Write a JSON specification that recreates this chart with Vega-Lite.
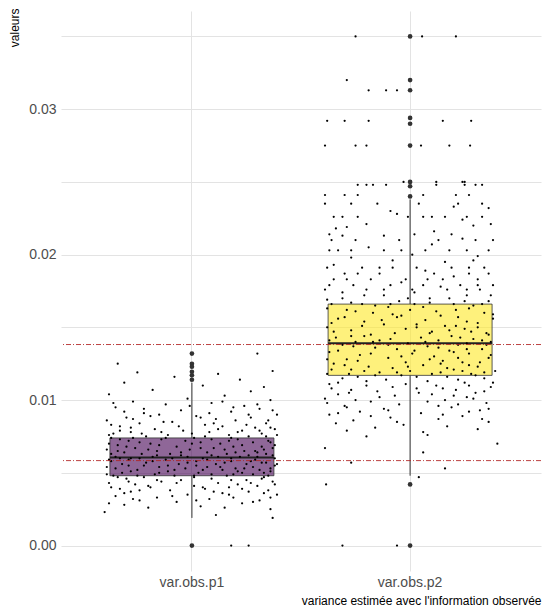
{
  "$schema": "https://vega.github.io/schema/vega-lite/v6.json",
  "width": 480,
  "height": 560,
  "autosize": {"type": "none"},
  "padding": {"left": 61, "top": 11, "right": 2, "bottom": 43},
  "background": "white",
  "config": {
    "view": {"stroke": null},
    "font": "Liberation Sans",
    "axis": {"domain": false, "ticks": false, "gridColor": "#e3e3e3", "gridWidth": 1, "labelColor": "#4d4d4d", "labelFontSize": 14, "labelFont": "Liberation Sans", "titleFont": "Liberation Sans", "titleFontWeight": "normal", "titleColor": "#000000", "titleFontSize": 12}
  },
  "datasets": {
    "box": [
      {"g": "var.obs.p1", "lo": 0.0019, "q1": 0.0048, "med": 0.00605, "q3": 0.0074, "hi": 0.0112},
      {"g": "var.obs.p2", "lo": 0.0048, "q1": 0.0117, "med": 0.0139, "q3": 0.0166, "hi": 0.0238}
    ],
    "out": [
      {"g": "var.obs.p1", "v": 0.0132}, {"g": "var.obs.p1", "v": 0.0125}, {"g": "var.obs.p1", "v": 0.0123}, {"g": "var.obs.p1", "v": 0.01195}, {"g": "var.obs.p1", "v": 0.0117}, {"g": "var.obs.p1", "v": 0.0114}, {"g": "var.obs.p1", "v": 0.0},
      {"g": "var.obs.p2", "v": 0.035}, {"g": "var.obs.p2", "v": 0.032}, {"g": "var.obs.p2", "v": 0.0313}, {"g": "var.obs.p2", "v": 0.0294}, {"g": "var.obs.p2", "v": 0.0290}, {"g": "var.obs.p2", "v": 0.0275}, {"g": "var.obs.p2", "v": 0.025}, {"g": "var.obs.p2", "v": 0.0247}, {"g": "var.obs.p2", "v": 0.0240}, {"g": "var.obs.p2", "v": 0.0042}, {"g": "var.obs.p2", "v": 0.0}
    ],
    "ref": [{"v": 0.00584}, {"v": 0.01382}],
    "pts": [
      {"g":"var.obs.p1","v":0.0132,"j":0.30},{"g":"var.obs.p1","v":0.0125,"j":-0.34},{"g":"var.obs.p1","v":0.0120,"j":0.37},{"g":"var.obs.p1","v":0.0119,"j":-0.25},{"g":"var.obs.p1","v":0.0118,"j":0.12},{"g":"var.obs.p1","v":0.0116,"j":-0.08},{"g":"var.obs.p1","v":0.0114,"j":0.22},{"g":"var.obs.p1","v":0.0112,"j":-0.31},{"g":"var.obs.p1","v":0.0110,"j":0.05},{"g":"var.obs.p1","v":0.0109,"j":0.33},{"g":"var.obs.p1","v":0.0107,"j":-0.18},{"g":"var.obs.p1","v":0.0106,"j":0.27},{"g":"var.obs.p1","v":0.0104,"j":-0.38},{"g":"var.obs.p1","v":0.0103,"j":0.15},{"g":"var.obs.p1","v":0.0101,"j":-0.02},{"g":"var.obs.p1","v":0.0100,"j":0.36},{"g":"var.obs.p1","v":0.0099,"j":-0.27},{"g":"var.obs.p1","v":0.0098,"j":0.09},{"g":"var.obs.p1","v":0.0097,"j":-0.12},{"g":"var.obs.p1","v":0.0096,"j":0.24},{"g":"var.obs.p1","v":0.0095,"j":-0.35},{"g":"var.obs.p1","v":0.0094,"j":0.31},{"g":"var.obs.p1","v":0.0093,"j":-0.05},{"g":"var.obs.p1","v":0.0092,"j":0.18},{"g":"var.obs.p1","v":0.0091,"j":-0.22},{"g":"var.obs.p1","v":0.0090,"j":0.39},{"g":"var.obs.p1","v":0.0090,"j":-0.15},{"g":"var.obs.p1","v":0.0089,"j":0.02},{"g":"var.obs.p1","v":0.0088,"j":-0.30},{"g":"var.obs.p1","v":0.0088,"j":0.27},{"g":"var.obs.p1","v":0.0087,"j":0.11},{"g":"var.obs.p1","v":0.0086,"j":-0.39},{"g":"var.obs.p1","v":0.0086,"j":0.20},{"g":"var.obs.p1","v":0.0085,"j":-0.09},{"g":"var.obs.p1","v":0.0084,"j":0.34},{"g":"var.obs.p1","v":0.0084,"j":-0.24},{"g":"var.obs.p1","v":0.0083,"j":0.06},{"g":"var.obs.p1","v":0.0082,"j":-0.33},{"g":"var.obs.p1","v":0.0082,"j":0.14},{"g":"var.obs.p1","v":0.0081,"j":0.29},{"g":"var.obs.p1","v":0.0080,"j":-0.17},{"g":"var.obs.p1","v":0.0080,"j":0.38},{"g":"var.obs.p1","v":0.0079,"j":-0.04},{"g":"var.obs.p1","v":0.0079,"j":0.23},{"g":"var.obs.p1","v":0.0078,"j":-0.28},{"g":"var.obs.p1","v":0.0078,"j":0.08},{"g":"var.obs.p1","v":0.0077,"j":-0.36},{"g":"var.obs.p1","v":0.0077,"j":0.32},{"g":"var.obs.p1","v":0.0076,"j":-0.11},{"g":"var.obs.p1","v":0.0076,"j":0.17},{"g":"var.obs.p1","v":0.0075,"j":-0.21},{"g":"var.obs.p1","v":0.0075,"j":0.26},{"g":"var.obs.p1","v":0.0074,"j":0.01},
      {"g":"var.obs.p1","v":0.0074,"j":-0.37},{"g":"var.obs.p1","v":0.0073,"j":0.21},{"g":"var.obs.p1","v":0.0073,"j":-0.14},{"g":"var.obs.p1","v":0.0072,"j":0.35},{"g":"var.obs.p1","v":0.0072,"j":-0.29},{"g":"var.obs.p1","v":0.0071,"j":0.04},{"g":"var.obs.p1","v":0.0071,"j":0.28},{"g":"var.obs.p1","v":0.0070,"j":-0.19},{"g":"var.obs.p1","v":0.0070,"j":0.13},{"g":"var.obs.p1","v":0.0069,"j":-0.34},{"g":"var.obs.p1","v":0.0069,"j":0.38},{"g":"var.obs.p1","v":0.0068,"j":-0.07},{"g":"var.obs.p1","v":0.0068,"j":0.19},{"g":"var.obs.p1","v":0.0067,"j":-0.26},{"g":"var.obs.p1","v":0.0067,"j":0.10},{"g":"var.obs.p1","v":0.0066,"j":0.33},{"g":"var.obs.p1","v":0.0066,"j":-0.39},{"g":"var.obs.p1","v":0.0066,"j":-0.01},{"g":"var.obs.p1","v":0.0065,"j":0.24},{"g":"var.obs.p1","v":0.0065,"j":-0.16},{"g":"var.obs.p1","v":0.0064,"j":0.07},{"g":"var.obs.p1","v":0.0064,"j":-0.31},{"g":"var.obs.p1","v":0.0064,"j":0.30},{"g":"var.obs.p1","v":0.0063,"j":-0.10},{"g":"var.obs.p1","v":0.0063,"j":0.16},{"g":"var.obs.p1","v":0.0063,"j":-0.23},{"g":"var.obs.p1","v":0.0062,"j":0.37},{"g":"var.obs.p1","v":0.0062,"j":-0.05},{"g":"var.obs.p1","v":0.0062,"j":0.26},{"g":"var.obs.p1","v":0.0061,"j":-0.35},{"g":"var.obs.p1","v":0.0061,"j":0.12},{"g":"var.obs.p1","v":0.0061,"j":-0.18},{"g":"var.obs.p1","v":0.0061,"j":0.22},{"g":"var.obs.p1","v":0.0060,"j":-0.28},
      {"g":"var.obs.p1","v":0.0060,"j":0.05},{"g":"var.obs.p1","v":0.0060,"j":-0.33},{"g":"var.obs.p1","v":0.0059,"j":0.29},{"g":"var.obs.p1","v":0.0059,"j":-0.12},{"g":"var.obs.p1","v":0.0058,"j":0.18},{"g":"var.obs.p1","v":0.0058,"j":-0.37},{"g":"var.obs.p1","v":0.0058,"j":0.02},{"g":"var.obs.p1","v":0.0057,"j":0.34},{"g":"var.obs.p1","v":0.0057,"j":-0.21},{"g":"var.obs.p1","v":0.0056,"j":0.11},{"g":"var.obs.p1","v":0.0056,"j":-0.06},{"g":"var.obs.p1","v":0.0056,"j":0.25},{"g":"var.obs.p1","v":0.0055,"j":-0.29},{"g":"var.obs.p1","v":0.0055,"j":0.38},{"g":"var.obs.p1","v":0.0054,"j":-0.15},{"g":"var.obs.p1","v":0.0054,"j":0.07},{"g":"var.obs.p1","v":0.0054,"j":-0.39},{"g":"var.obs.p1","v":0.0053,"j":0.20},{"g":"var.obs.p1","v":0.0053,"j":-0.03},{"g":"var.obs.p1","v":0.0052,"j":0.31},{"g":"var.obs.p1","v":0.0052,"j":-0.25},{"g":"var.obs.p1","v":0.0052,"j":0.14},{"g":"var.obs.p1","v":0.0051,"j":-0.11},{"g":"var.obs.p1","v":0.0051,"j":0.36},{"g":"var.obs.p1","v":0.0050,"j":-0.32},{"g":"var.obs.p1","v":0.0050,"j":0.03},{"g":"var.obs.p1","v":0.0050,"j":0.23},{"g":"var.obs.p1","v":0.0049,"j":-0.17},{"g":"var.obs.p1","v":0.0049,"j":0.28},{"g":"var.obs.p1","v":0.0048,"j":-0.08},{"g":"var.obs.p1","v":0.0048,"j":0.16},{"g":"var.obs.p1","v":0.0048,"j":-0.36},
      {"g":"var.obs.p1","v":0.0047,"j":0.33},{"g":"var.obs.p1","v":0.0047,"j":-0.22},{"g":"var.obs.p1","v":0.0046,"j":0.09},{"g":"var.obs.p1","v":0.0046,"j":-0.30},{"g":"var.obs.p1","v":0.0045,"j":0.25},{"g":"var.obs.p1","v":0.0045,"j":-0.05},{"g":"var.obs.p1","v":0.0044,"j":0.37},{"g":"var.obs.p1","v":0.0044,"j":-0.14},{"g":"var.obs.p1","v":0.0043,"j":0.12},{"g":"var.obs.p1","v":0.0043,"j":-0.38},{"g":"var.obs.p1","v":0.0042,"j":0.21},{"g":"var.obs.p1","v":0.0042,"j":-0.26},{"g":"var.obs.p1","v":0.0041,"j":0.01},{"g":"var.obs.p1","v":0.0041,"j":0.30},{"g":"var.obs.p1","v":0.0040,"j":-0.19},{"g":"var.obs.p1","v":0.0040,"j":0.17},{"g":"var.obs.p1","v":0.0039,"j":-0.33},{"g":"var.obs.p1","v":0.0039,"j":0.06},{"g":"var.obs.p1","v":0.0038,"j":0.35},{"g":"var.obs.p1","v":0.0038,"j":-0.10},{"g":"var.obs.p1","v":0.0037,"j":0.26},{"g":"var.obs.p1","v":0.0037,"j":-0.28},{"g":"var.obs.p1","v":0.0036,"j":0.14},{"g":"var.obs.p1","v":0.0035,"j":-0.02},{"g":"var.obs.p1","v":0.0035,"j":0.39},{"g":"var.obs.p1","v":0.0034,"j":-0.35},{"g":"var.obs.p1","v":0.0033,"j":0.19},{"g":"var.obs.p1","v":0.0033,"j":-0.16},{"g":"var.obs.p1","v":0.0032,"j":0.08},{"g":"var.obs.p1","v":0.0031,"j":-0.24},{"g":"var.obs.p1","v":0.0031,"j":0.31},{"g":"var.obs.p1","v":0.0030,"j":-0.07},{"g":"var.obs.p1","v":0.0029,"j":0.23},{"g":"var.obs.p1","v":0.0028,"j":-0.31},{"g":"var.obs.p1","v":0.0027,"j":0.04},{"g":"var.obs.p1","v":0.0026,"j":-0.20},{"g":"var.obs.p1","v":0.0025,"j":0.36},{"g":"var.obs.p1","v":0.0023,"j":-0.40},{"g":"var.obs.p1","v":0.0021,"j":0.11},{"g":"var.obs.p1","v":0.0019,"j":0.37},{"g":"var.obs.p1","v":0.0000,"j":0.18},{"g":"var.obs.p1","v":0.0000,"j":0.26},
      {"g":"var.obs.p1","v":0.0099,"j":0.14},{"g":"var.obs.p1","v":0.0098,"j":-0.36},{"g":"var.obs.p1","v":0.0097,"j":0.30},{"g":"var.obs.p1","v":0.0096,"j":-0.01},{"g":"var.obs.p1","v":0.0095,"j":0.19},{"g":"var.obs.p1","v":0.0094,"j":-0.22},{"g":"var.obs.p1","v":0.0093,"j":0.37},{"g":"var.obs.p1","v":0.0092,"j":-0.31},{"g":"var.obs.p1","v":0.0091,"j":0.08},{"g":"var.obs.p1","v":0.0090,"j":0.26},{"g":"var.obs.p1","v":0.0089,"j":-0.19},{"g":"var.obs.p1","v":0.0088,"j":0.04},{"g":"var.obs.p1","v":0.0087,"j":-0.27},{"g":"var.obs.p1","v":0.0086,"j":0.35},{"g":"var.obs.p1","v":0.0085,"j":-0.13},
      {"g":"var.obs.p1","v":0.0084,"j":0.10},{"g":"var.obs.p1","v":0.0083,"j":-0.37},{"g":"var.obs.p1","v":0.0083,"j":0.25},{"g":"var.obs.p1","v":0.0082,"j":-0.06},{"g":"var.obs.p1","v":0.0081,"j":-0.28},{"g":"var.obs.p1","v":0.0081,"j":0.36},{"g":"var.obs.p1","v":0.0080,"j":0.12},{"g":"var.obs.p1","v":0.0079,"j":-0.33},{"g":"var.obs.p1","v":0.0079,"j":0.31},{"g":"var.obs.p1","v":0.0078,"j":-0.14},{"g":"var.obs.p1","v":0.0078,"j":0.21},{"g":"var.obs.p1","v":0.0077,"j":0.00},{"g":"var.obs.p1","v":0.0077,"j":-0.23},{"g":"var.obs.p1","v":0.0076,"j":0.39},{"g":"var.obs.p1","v":0.0076,"j":-0.38},{"g":"var.obs.p1","v":0.0075,"j":0.06},{"g":"var.obs.p1","v":0.0075,"j":0.34},{"g":"var.obs.p1","v":0.0074,"j":-0.27},{"g":"var.obs.p1","v":0.0074,"j":0.18},{"g":"var.obs.p1","v":0.0074,"j":-0.12},
      {"g":"var.obs.p1","v":0.0073,"j":0.09},{"g":"var.obs.p1","v":0.0073,"j":-0.33},{"g":"var.obs.p1","v":0.0072,"j":0.17},{"g":"var.obs.p1","v":0.0072,"j":-0.03},{"g":"var.obs.p1","v":0.0071,"j":-0.24},{"g":"var.obs.p1","v":0.0071,"j":0.36},{"g":"var.obs.p1","v":0.0070,"j":0.00},{"g":"var.obs.p1","v":0.0070,"j":-0.38},{"g":"var.obs.p1","v":0.0069,"j":0.23},{"g":"var.obs.p1","v":0.0069,"j":-0.15},{"g":"var.obs.p1","v":0.0068,"j":0.32},{"g":"var.obs.p1","v":0.0068,"j":-0.30},{"g":"var.obs.p1","v":0.0067,"j":0.04},{"g":"var.obs.p1","v":0.0067,"j":0.37},{"g":"var.obs.p1","v":0.0066,"j":-0.20},{"g":"var.obs.p1","v":0.0066,"j":0.15},{"g":"var.obs.p1","v":0.0065,"j":-0.34},{"g":"var.obs.p1","v":0.0065,"j":0.29},{"g":"var.obs.p1","v":0.0064,"j":-0.05},{"g":"var.obs.p1","v":0.0064,"j":0.20},{"g":"var.obs.p1","v":0.0063,"j":-0.37},{"g":"var.obs.p1","v":0.0063,"j":0.34},{"g":"var.obs.p1","v":0.0062,"j":0.09},{"g":"var.obs.p1","v":0.0062,"j":-0.16},{"g":"var.obs.p1","v":0.0061,"j":0.30},{"g":"var.obs.p1","v":0.0061,"j":-0.02},{"g":"var.obs.p1","v":0.0060,"j":0.18},{"g":"var.obs.p1","v":0.0060,"j":-0.24},{"g":"var.obs.p1","v":0.0060,"j":0.38},{"g":"var.obs.p1","v":0.0060,"j":-0.09},
      {"g":"var.obs.p1","v":0.0059,"j":0.07},{"g":"var.obs.p1","v":0.0059,"j":-0.38},{"g":"var.obs.p1","v":0.0058,"j":0.27},{"g":"var.obs.p1","v":0.0058,"j":-0.18},{"g":"var.obs.p1","v":0.0057,"j":-0.02},{"g":"var.obs.p1","v":0.0057,"j":0.15},{"g":"var.obs.p1","v":0.0056,"j":-0.32},{"g":"var.obs.p1","v":0.0056,"j":0.39},{"g":"var.obs.p1","v":0.0055,"j":0.02},{"g":"var.obs.p1","v":0.0055,"j":-0.22},{"g":"var.obs.p1","v":0.0054,"j":0.28},{"g":"var.obs.p1","v":0.0054,"j":0.13},{"g":"var.obs.p1","v":0.0053,"j":-0.35},{"g":"var.obs.p1","v":0.0053,"j":0.36},{"g":"var.obs.p1","v":0.0052,"j":-0.08},{"g":"var.obs.p1","v":0.0052,"j":0.05},{"g":"var.obs.p1","v":0.0051,"j":0.21},{"g":"var.obs.p1","v":0.0051,"j":-0.28},{"g":"var.obs.p1","v":0.0050,"j":-0.15},{"g":"var.obs.p1","v":0.0050,"j":0.33},{"g":"var.obs.p1","v":0.0049,"j":0.09},{"g":"var.obs.p1","v":0.0049,"j":-0.39},{"g":"var.obs.p1","v":0.0049,"j":0.19},{"g":"var.obs.p1","v":0.0048,"j":-0.25},{"g":"var.obs.p1","v":0.0048,"j":0.35},{"g":"var.obs.p1","v":0.0048,"j":0.01},{"g":"var.obs.p1","v":0.0053,"j":0.24},{"g":"var.obs.p1","v":0.0055,"j":-0.11},{"g":"var.obs.p1","v":0.0057,"j":0.32},{"g":"var.obs.p1","v":0.0059,"j":-0.29},
      {"g":"var.obs.p1","v":0.0047,"j":0.01},{"g":"var.obs.p1","v":0.0047,"j":-0.34},{"g":"var.obs.p1","v":0.0046,"j":0.32},{"g":"var.obs.p1","v":0.0045,"j":-0.16},{"g":"var.obs.p1","v":0.0045,"j":0.18},{"g":"var.obs.p1","v":0.0044,"j":-0.29},{"g":"var.obs.p1","v":0.0043,"j":0.27},{"g":"var.obs.p1","v":0.0043,"j":-0.07},{"g":"var.obs.p1","v":0.0042,"j":0.38},{"g":"var.obs.p1","v":0.0041,"j":-0.20},{"g":"var.obs.p1","v":0.0040,"j":0.05},{"g":"var.obs.p1","v":0.0040,"j":-0.37},{"g":"var.obs.p1","v":0.0039,"j":0.23},{"g":"var.obs.p1","v":0.0038,"j":-0.24},{"g":"var.obs.p1","v":0.0037,"j":0.10},{"g":"var.obs.p1","v":0.0036,"j":-0.31},{"g":"var.obs.p1","v":0.0036,"j":0.33},{"g":"var.obs.p1","v":0.0035,"j":0.17},{"g":"var.obs.p1","v":0.0034,"j":-0.09},{"g":"var.obs.p1","v":0.0033,"j":0.36},{"g":"var.obs.p1","v":0.0032,"j":-0.27},{"g":"var.obs.p1","v":0.0031,"j":0.02},{"g":"var.obs.p1","v":0.0030,"j":0.28},{"g":"var.obs.p1","v":0.0029,"j":-0.38},{"g":"var.obs.p1","v":0.0026,"j":0.15},
      {"g":"var.obs.p2","v":0.0350,"j":-0.25},{"g":"var.obs.p2","v":0.0350,"j":0.055},{"g":"var.obs.p2","v":0.0350,"j":0.21},{"g":"var.obs.p2","v":0.0320,"j":-0.29},{"g":"var.obs.p2","v":0.0313,"j":-0.19},{"g":"var.obs.p2","v":0.0313,"j":-0.11},{"g":"var.obs.p2","v":0.0313,"j":-0.06},{"g":"var.obs.p2","v":0.0292,"j":-0.38},{"g":"var.obs.p2","v":0.0292,"j":-0.30},{"g":"var.obs.p2","v":0.0292,"j":-0.19},{"g":"var.obs.p2","v":0.0292,"j":0.15},{"g":"var.obs.p2","v":0.0292,"j":0.28},{"g":"var.obs.p2","v":0.0275,"j":-0.39},{"g":"var.obs.p2","v":0.0275,"j":-0.25},{"g":"var.obs.p2","v":0.0275,"j":-0.20},{"g":"var.obs.p2","v":0.0275,"j":0.05},{"g":"var.obs.p2","v":0.0275,"j":0.18},{"g":"var.obs.p2","v":0.0275,"j":0.275},{"g":"var.obs.p2","v":0.0250,"j":-0.03},{"g":"var.obs.p2","v":0.0250,"j":0.12},{"g":"var.obs.p2","v":0.0250,"j":0.24},{"g":"var.obs.p2","v":0.0250,"j":0.25},{"g":"var.obs.p2","v":0.0248,"j":-0.24},{"g":"var.obs.p2","v":0.0248,"j":-0.20},{"g":"var.obs.p2","v":0.0248,"j":-0.17},{"g":"var.obs.p2","v":0.0248,"j":-0.11},{"g":"var.obs.p2","v":0.0248,"j":0.12},{"g":"var.obs.p2","v":0.0248,"j":0.25},{"g":"var.obs.p2","v":0.0248,"j":0.30},{"g":"var.obs.p2","v":0.0248,"j":0.33},{"g":"var.obs.p2","v":0.0241,"j":-0.39},{"g":"var.obs.p2","v":0.0241,"j":-0.30},{"g":"var.obs.p2","v":0.0241,"j":-0.24},{"g":"var.obs.p2","v":0.0241,"j":0.06},{"g":"var.obs.p2","v":0.0241,"j":0.21},{"g":"var.obs.p2","v":0.0241,"j":0.27},
      {"g":"var.obs.p2","v":0.0235,"j":-0.39},{"g":"var.obs.p2","v":0.0235,"j":-0.15},{"g":"var.obs.p2","v":0.0235,"j":0.04},{"g":"var.obs.p2","v":0.0235,"j":0.22},{"g":"var.obs.p2","v":0.0233,"j":0.20},{"g":"var.obs.p2","v":0.0226,"j":-0.35},{"g":"var.obs.p2","v":0.0226,"j":-0.24},{"g":"var.obs.p2","v":0.0226,"j":-0.01},{"g":"var.obs.p2","v":0.0226,"j":0.10},{"g":"var.obs.p2","v":0.0226,"j":0.26},{"g":"var.obs.p2","v":0.0226,"j":0.33},{"g":"var.obs.p2","v":0.0221,"j":0.37},{"g":"var.obs.p2","v":0.0214,"j":-0.37},{"g":"var.obs.p2","v":0.0213,"j":-0.31},{"g":"var.obs.p2","v":0.0211,"j":0.24},{"g":"var.obs.p2","v":0.0210,"j":-0.05},{"g":"var.obs.p2","v":0.0210,"j":0.13},{"g":"var.obs.p2","v":0.0210,"j":0.30},{"g":"var.obs.p2","v":0.0203,"j":-0.33},{"g":"var.obs.p2","v":0.0203,"j":-0.27},{"g":"var.obs.p2","v":0.0203,"j":-0.12},{"g":"var.obs.p2","v":0.0203,"j":-0.04},{"g":"var.obs.p2","v":0.0203,"j":0.07},{"g":"var.obs.p2","v":0.0203,"j":0.18},{"g":"var.obs.p2","v":0.0203,"j":0.36},{"g":"var.obs.p2","v":0.0196,"j":0.29},{"g":"var.obs.p2","v":0.0191,"j":-0.38},{"g":"var.obs.p2","v":0.0191,"j":-0.22},{"g":"var.obs.p2","v":0.0191,"j":-0.08},{"g":"var.obs.p2","v":0.0191,"j":0.03},{"g":"var.obs.p2","v":0.0191,"j":0.19},{"g":"var.obs.p2","v":0.0191,"j":0.34},{"g":"var.obs.p2","v":0.0187,"j":-0.30},{"g":"var.obs.p2","v":0.0187,"j":-0.14},{"g":"var.obs.p2","v":0.0187,"j":0.11},{"g":"var.obs.p2","v":0.0187,"j":0.27},{"g":"var.obs.p2","v":0.0183,"j":-0.35},{"g":"var.obs.p2","v":0.0183,"j":-0.18},{"g":"var.obs.p2","v":0.0183,"j":-0.02},{"g":"var.obs.p2","v":0.0183,"j":0.15},{"g":"var.obs.p2","v":0.0183,"j":0.31},{"g":"var.obs.p2","v":0.0179,"j":-0.26},{"g":"var.obs.p2","v":0.0179,"j":-0.09},{"g":"var.obs.p2","v":0.0179,"j":0.06},{"g":"var.obs.p2","v":0.0179,"j":0.23},{"g":"var.obs.p2","v":0.0179,"j":0.38},{"g":"var.obs.p2","v":0.0176,"j":-0.39},{"g":"var.obs.p2","v":0.0176,"j":-0.20},{"g":"var.obs.p2","v":0.0176,"j":0.01},{"g":"var.obs.p2","v":0.0176,"j":0.17},{"g":"var.obs.p2","v":0.0176,"j":0.32},{"g":"var.obs.p2","v":0.0172,"j":-0.12},{"g":"var.obs.p2","v":0.0172,"j":0.26},{"g":"var.obs.p2","v":0.0170,"j":-0.31},{"g":"var.obs.p2","v":0.0170,"j":0.09},{"g":"var.obs.p2","v":0.0168,"j":0.36},{"g":"var.obs.p2","v":0.0168,"j":-0.05},
      {"g":"var.obs.p2","v":0.0166,"j":-0.36},{"g":"var.obs.p2","v":0.0166,"j":-0.22},{"g":"var.obs.p2","v":0.0166,"j":0.02},{"g":"var.obs.p2","v":0.0166,"j":0.20},{"g":"var.obs.p2","v":0.0166,"j":0.33},{"g":"var.obs.p2","v":0.0164,"j":-0.10},{"g":"var.obs.p2","v":0.0163,"j":0.27},{"g":"var.obs.p2","v":0.0162,"j":-0.29},{"g":"var.obs.p2","v":0.0161,"j":0.12},{"g":"var.obs.p2","v":0.0160,"j":-0.17},{"g":"var.obs.p2","v":0.0159,"j":0.38},{"g":"var.obs.p2","v":0.0158,"j":-0.04},{"g":"var.obs.p2","v":0.0157,"j":0.22},{"g":"var.obs.p2","v":0.0156,"j":-0.33},{"g":"var.obs.p2","v":0.0155,"j":0.07},{"g":"var.obs.p2","v":0.0154,"j":-0.21},{"g":"var.obs.p2","v":0.0153,"j":0.31},{"g":"var.obs.p2","v":0.0152,"j":-0.12},{"g":"var.obs.p2","v":0.0151,"j":0.16},{"g":"var.obs.p2","v":0.0150,"j":-0.38},{"g":"var.obs.p2","v":0.0150,"j":0.03},{"g":"var.obs.p2","v":0.0149,"j":0.25},{"g":"var.obs.p2","v":0.0148,"j":-0.27},{"g":"var.obs.p2","v":0.0147,"j":0.10},{"g":"var.obs.p2","v":0.0146,"j":-0.07},{"g":"var.obs.p2","v":0.0146,"j":0.35},{"g":"var.obs.p2","v":0.0145,"j":-0.18},{"g":"var.obs.p2","v":0.0144,"j":0.19},{"g":"var.obs.p2","v":0.0143,"j":-0.34},{"g":"var.obs.p2","v":0.0143,"j":0.05},{"g":"var.obs.p2","v":0.0142,"j":0.29},{"g":"var.obs.p2","v":0.0141,"j":-0.14},{"g":"var.obs.p2","v":0.0141,"j":0.13},{"g":"var.obs.p2","v":0.0140,"j":-0.25},{"g":"var.obs.p2","v":0.0140,"j":0.37},{"g":"var.obs.p2","v":0.0139,"j":-0.01},
      {"g":"var.obs.p2","v":0.0138,"j":0.22},{"g":"var.obs.p2","v":0.0138,"j":-0.31},{"g":"var.obs.p2","v":0.0137,"j":0.08},{"g":"var.obs.p2","v":0.0136,"j":-0.16},{"g":"var.obs.p2","v":0.0135,"j":0.33},{"g":"var.obs.p2","v":0.0135,"j":-0.06},{"g":"var.obs.p2","v":0.0134,"j":0.18},{"g":"var.obs.p2","v":0.0133,"j":-0.37},{"g":"var.obs.p2","v":0.0132,"j":0.01},{"g":"var.obs.p2","v":0.0132,"j":0.27},{"g":"var.obs.p2","v":0.0131,"j":-0.23},{"g":"var.obs.p2","v":0.0130,"j":0.11},{"g":"var.obs.p2","v":0.0129,"j":-0.10},{"g":"var.obs.p2","v":0.0129,"j":0.36},{"g":"var.obs.p2","v":0.0128,"j":-0.29},{"g":"var.obs.p2","v":0.0127,"j":0.15},{"g":"var.obs.p2","v":0.0126,"j":-0.02},{"g":"var.obs.p2","v":0.0126,"j":0.24},{"g":"var.obs.p2","v":0.0125,"j":-0.35},{"g":"var.obs.p2","v":0.0124,"j":0.06},{"g":"var.obs.p2","v":0.0123,"j":-0.19},{"g":"var.obs.p2","v":0.0123,"j":0.31},{"g":"var.obs.p2","v":0.0122,"j":-0.08},{"g":"var.obs.p2","v":0.0121,"j":0.20},{"g":"var.obs.p2","v":0.0121,"j":-0.27},{"g":"var.obs.p2","v":0.0120,"j":0.39},{"g":"var.obs.p2","v":0.0120,"j":0.00},{"g":"var.obs.p2","v":0.0119,"j":-0.14},{"g":"var.obs.p2","v":0.0119,"j":0.14},{"g":"var.obs.p2","v":0.0118,"j":-0.38},{"g":"var.obs.p2","v":0.0118,"j":0.28},{"g":"var.obs.p2","v":0.0117,"j":-0.04},
      {"g":"var.obs.p2","v":0.0116,"j":0.17},{"g":"var.obs.p2","v":0.0116,"j":-0.24},{"g":"var.obs.p2","v":0.0115,"j":0.34},{"g":"var.obs.p2","v":0.0114,"j":-0.11},{"g":"var.obs.p2","v":0.0113,"j":0.08},{"g":"var.obs.p2","v":0.0112,"j":-0.33},{"g":"var.obs.p2","v":0.0112,"j":0.25},{"g":"var.obs.p2","v":0.0111,"j":-0.02},{"g":"var.obs.p2","v":0.0110,"j":0.12},{"g":"var.obs.p2","v":0.0110,"j":-0.20},{"g":"var.obs.p2","v":0.0109,"j":0.37},{"g":"var.obs.p2","v":0.0108,"j":-0.36},{"g":"var.obs.p2","v":0.0108,"j":0.03},{"g":"var.obs.p2","v":0.0107,"j":0.21},{"g":"var.obs.p2","v":0.0106,"j":-0.15},{"g":"var.obs.p2","v":0.0105,"j":0.30},{"g":"var.obs.p2","v":0.0105,"j":-0.28},{"g":"var.obs.p2","v":0.0104,"j":0.10},{"g":"var.obs.p2","v":0.0103,"j":-0.07},{"g":"var.obs.p2","v":0.0102,"j":0.26},{"g":"var.obs.p2","v":0.0101,"j":-0.39},{"g":"var.obs.p2","v":0.0100,"j":0.16},{"g":"var.obs.p2","v":0.0099,"j":-0.18},{"g":"var.obs.p2","v":0.0098,"j":0.35},{"g":"var.obs.p2","v":0.0097,"j":-0.05},{"g":"var.obs.p2","v":0.0096,"j":-0.30},{"g":"var.obs.p2","v":0.0095,"j":0.19},{"g":"var.obs.p2","v":0.0094,"j":-0.12},{"g":"var.obs.p2","v":0.0093,"j":0.32},{"g":"var.obs.p2","v":0.0092,"j":-0.23},{"g":"var.obs.p2","v":0.0091,"j":0.05},{"g":"var.obs.p2","v":0.0090,"j":-0.37},{"g":"var.obs.p2","v":0.0089,"j":0.24},{"g":"var.obs.p2","v":0.0088,"j":-0.09},{"g":"var.obs.p2","v":0.0087,"j":0.13},{"g":"var.obs.p2","v":0.0086,"j":-0.26},{"g":"var.obs.p2","v":0.0085,"j":0.36},{"g":"var.obs.p2","v":0.0084,"j":-0.34},{"g":"var.obs.p2","v":0.0083,"j":-0.03},{"g":"var.obs.p2","v":0.0082,"j":0.17},{"g":"var.obs.p2","v":0.0081,"j":-0.16},{"g":"var.obs.p2","v":0.0080,"j":0.31},{"g":"var.obs.p2","v":0.0079,"j":-0.29},{"g":"var.obs.p2","v":0.0078,"j":0.06},{"g":"var.obs.p2","v":0.0076,"j":0.08},{"g":"var.obs.p2","v":0.0075,"j":-0.20},{"g":"var.obs.p2","v":0.0070,"j":0.40},{"g":"var.obs.p2","v":0.0067,"j":-0.39},{"g":"var.obs.p2","v":0.0064,"j":0.06},{"g":"var.obs.p2","v":0.0057,"j":-0.27},{"g":"var.obs.p2","v":0.0053,"j":0.16},{"g":"var.obs.p2","v":0.0047,"j":0.04},{"g":"var.obs.p2","v":0.0042,"j":-0.385},{"g":"var.obs.p2","v":0.0000,"j":-0.31},{"g":"var.obs.p2","v":0.0000,"j":-0.06},
      {"g":"var.obs.p2","v":0.0235,"j":-0.27},{"g":"var.obs.p2","v":0.0235,"j":0.33},{"g":"var.obs.p2","v":0.0230,"j":-0.09},{"g":"var.obs.p2","v":0.0226,"j":-0.31},{"g":"var.obs.p2","v":0.0226,"j":0.16},{"g":"var.obs.p2","v":0.0226,"j":0.06},{"g":"var.obs.p2","v":0.0221,"j":-0.20},{"g":"var.obs.p2","v":0.0220,"j":0.29},{"g":"var.obs.p2","v":0.0214,"j":0.02},{"g":"var.obs.p2","v":0.0214,"j":0.19},{"g":"var.obs.p2","v":0.0213,"j":-0.12},{"g":"var.obs.p2","v":0.0210,"j":-0.36},{"g":"var.obs.p2","v":0.0210,"j":-0.25},{"g":"var.obs.p2","v":0.0210,"j":0.38},{"g":"var.obs.p2","v":0.0216,"j":0.11},{"g":"var.obs.p2","v":0.0218,"j":-0.34},{"g":"var.obs.p2","v":0.0224,"j":0.24},{"g":"var.obs.p2","v":0.0228,"j":-0.06},{"g":"var.obs.p2","v":0.0232,"j":0.36},{"g":"var.obs.p2","v":0.0219,"j":-0.29},
      {"g":"var.obs.p2","v":0.0207,"j":0.10},{"g":"var.obs.p2","v":0.0205,"j":-0.19},{"g":"var.obs.p2","v":0.0203,"j":0.26},{"g":"var.obs.p2","v":0.0203,"j":-0.37},{"g":"var.obs.p2","v":0.0200,"j":0.01},{"g":"var.obs.p2","v":0.0199,"j":0.31},{"g":"var.obs.p2","v":0.0198,"j":-0.27},{"g":"var.obs.p2","v":0.0196,"j":-0.08},{"g":"var.obs.p2","v":0.0195,"j":0.16},{"g":"var.obs.p2","v":0.0193,"j":-0.35},{"g":"var.obs.p2","v":0.0191,"j":0.27},{"g":"var.obs.p2","v":0.0191,"j":-0.14},{"g":"var.obs.p2","v":0.0189,"j":0.07},{"g":"var.obs.p2","v":0.0187,"j":-0.24},{"g":"var.obs.p2","v":0.0187,"j":0.36},{"g":"var.obs.p2","v":0.0185,"j":0.20},{"g":"var.obs.p2","v":0.0183,"j":-0.29},{"g":"var.obs.p2","v":0.0183,"j":0.08},{"g":"var.obs.p2","v":0.0181,"j":-0.04},{"g":"var.obs.p2","v":0.0179,"j":0.31},{"g":"var.obs.p2","v":0.0179,"j":-0.37},{"g":"var.obs.p2","v":0.0178,"j":0.14},{"g":"var.obs.p2","v":0.0176,"j":-0.12},{"g":"var.obs.p2","v":0.0176,"j":0.26},{"g":"var.obs.p2","v":0.0174,"j":-0.31},{"g":"var.obs.p2","v":0.0174,"j":0.02},{"g":"var.obs.p2","v":0.0172,"j":0.37},{"g":"var.obs.p2","v":0.0172,"j":-0.21},{"g":"var.obs.p2","v":0.0170,"j":0.18},{"g":"var.obs.p2","v":0.0170,"j":-0.01},{"g":"var.obs.p2","v":0.0169,"j":-0.38},{"g":"var.obs.p2","v":0.0168,"j":0.25},{"g":"var.obs.p2","v":0.0167,"j":0.09},{"g":"var.obs.p2","v":0.0167,"j":-0.27},{"g":"var.obs.p2","v":0.0166,"j":-0.09},
      {"g":"var.obs.p2","v":0.0165,"j":0.29},{"g":"var.obs.p2","v":0.0165,"j":-0.16},{"g":"var.obs.p2","v":0.0164,"j":0.06},{"g":"var.obs.p2","v":0.0163,"j":-0.38},{"g":"var.obs.p2","v":0.0162,"j":0.21},{"g":"var.obs.p2","v":0.0161,"j":-0.25},{"g":"var.obs.p2","v":0.0160,"j":0.34},{"g":"var.obs.p2","v":0.0159,"j":-0.08},{"g":"var.obs.p2","v":0.0158,"j":0.14},{"g":"var.obs.p2","v":0.0157,"j":-0.30},{"g":"var.obs.p2","v":0.0156,"j":0.38},{"g":"var.obs.p2","v":0.0155,"j":-0.13},{"g":"var.obs.p2","v":0.0154,"j":0.26},{"g":"var.obs.p2","v":0.0153,"j":-0.36},{"g":"var.obs.p2","v":0.0152,"j":0.03},{"g":"var.obs.p2","v":0.0151,"j":-0.22},{"g":"var.obs.p2","v":0.0150,"j":0.31},{"g":"var.obs.p2","v":0.0149,"j":-0.02},{"g":"var.obs.p2","v":0.0148,"j":0.18},{"g":"var.obs.p2","v":0.0147,"j":-0.35},{"g":"var.obs.p2","v":0.0146,"j":0.09},{"g":"var.obs.p2","v":0.0145,"j":0.36},{"g":"var.obs.p2","v":0.0144,"j":-0.27},{"g":"var.obs.p2","v":0.0143,"j":0.23},{"g":"var.obs.p2","v":0.0142,"j":-0.09},{"g":"var.obs.p2","v":0.0141,"j":-0.37},{"g":"var.obs.p2","v":0.0141,"j":0.33},{"g":"var.obs.p2","v":0.0140,"j":0.07},{"g":"var.obs.p2","v":0.0140,"j":-0.17},{"g":"var.obs.p2","v":0.0139,"j":0.26},{"g":"var.obs.p2","v":0.0151,"j":0.21},{"g":"var.obs.p2","v":0.0157,"j":-0.06},{"g":"var.obs.p2","v":0.0162,"j":0.00},{"g":"var.obs.p2","v":0.0147,"j":0.28},{"g":"var.obs.p2","v":0.0144,"j":-0.21},
      {"g":"var.obs.p2","v":0.0138,"j":0.35},{"g":"var.obs.p2","v":0.0138,"j":-0.10},{"g":"var.obs.p2","v":0.0137,"j":-0.26},{"g":"var.obs.p2","v":0.0136,"j":0.13},{"g":"var.obs.p2","v":0.0135,"j":0.26},{"g":"var.obs.p2","v":0.0134,"j":-0.33},{"g":"var.obs.p2","v":0.0134,"j":0.02},{"g":"var.obs.p2","v":0.0133,"j":0.20},{"g":"var.obs.p2","v":0.0132,"j":-0.18},{"g":"var.obs.p2","v":0.0131,"j":0.37},{"g":"var.obs.p2","v":0.0130,"j":-0.04},{"g":"var.obs.p2","v":0.0129,"j":0.22},{"g":"var.obs.p2","v":0.0128,"j":-0.38},{"g":"var.obs.p2","v":0.0128,"j":0.09},{"g":"var.obs.p2","v":0.0127,"j":-0.24},{"g":"var.obs.p2","v":0.0126,"j":0.32},{"g":"var.obs.p2","v":0.0125,"j":0.14},{"g":"var.obs.p2","v":0.0124,"j":-0.30},{"g":"var.obs.p2","v":0.0124,"j":0.27},{"g":"var.obs.p2","v":0.0123,"j":-0.01},{"g":"var.obs.p2","v":0.0122,"j":0.17},{"g":"var.obs.p2","v":0.0121,"j":-0.36},{"g":"var.obs.p2","v":0.0120,"j":-0.21},{"g":"var.obs.p2","v":0.0120,"j":0.24},{"g":"var.obs.p2","v":0.0119,"j":0.34},{"g":"var.obs.p2","v":0.0119,"j":-0.06},{"g":"var.obs.p2","v":0.0118,"j":0.10},{"g":"var.obs.p2","v":0.0118,"j":-0.28},{"g":"var.obs.p2","v":0.0117,"j":0.30},{"g":"var.obs.p2","v":0.0117,"j":-0.16},
      {"g":"var.obs.p2","v":0.0116,"j":0.03},{"g":"var.obs.p2","v":0.0115,"j":-0.31},{"g":"var.obs.p2","v":0.0114,"j":0.22},{"g":"var.obs.p2","v":0.0113,"j":-0.20},{"g":"var.obs.p2","v":0.0112,"j":0.38},{"g":"var.obs.p2","v":0.0111,"j":-0.37},{"g":"var.obs.p2","v":0.0110,"j":0.27},{"g":"var.obs.p2","v":0.0109,"j":-0.08},{"g":"var.obs.p2","v":0.0108,"j":0.15},{"g":"var.obs.p2","v":0.0107,"j":-0.27},{"g":"var.obs.p2","v":0.0106,"j":0.34},{"g":"var.obs.p2","v":0.0105,"j":0.04},{"g":"var.obs.p2","v":0.0104,"j":-0.33},{"g":"var.obs.p2","v":0.0103,"j":0.20},{"g":"var.obs.p2","v":0.0102,"j":-0.14},{"g":"var.obs.p2","v":0.0101,"j":0.29},{"g":"var.obs.p2","v":0.0100,"j":-0.25},{"g":"var.obs.p2","v":0.0099,"j":0.08},{"g":"var.obs.p2","v":0.0098,"j":-0.38},{"g":"var.obs.p2","v":0.0097,"j":0.22},{"g":"var.obs.p2","v":0.0096,"j":0.13},{"g":"var.obs.p2","v":0.0095,"j":-0.29},{"g":"var.obs.p2","v":0.0094,"j":0.36},{"g":"var.obs.p2","v":0.0093,"j":-0.10},{"g":"var.obs.p2","v":0.0092,"j":0.27},{"g":"var.obs.p2","v":0.0091,"j":-0.33},{"g":"var.obs.p2","v":0.0090,"j":0.15},{"g":"var.obs.p2","v":0.0089,"j":-0.18},{"g":"var.obs.p2","v":0.0087,"j":0.33},{"g":"var.obs.p2","v":0.0085,"j":-0.06}
    ]
  },
  "encoding": {
    "x": {
      "field": "g", "type": "nominal",
      "scale": {"domain": ["var.obs.p1", "var.obs.p2"], "paddingInner": 0, "paddingOuter": 0.1},
      "axis": {"grid": true, "bandPosition": 0.5, "labelAngle": 0, "labelPadding": 4, "title": "variance estimée avec l'information observée", "titleAnchor": "end", "titleAlign": "right", "titleBaseline": "middle", "titleX": 480, "titleY": 29}
    }
  },
  "layer": [
    {
      "data": {"name": "box"},
      "mark": {"type": "rule", "stroke": "#333333", "strokeWidth": 1},
      "encoding": {
        "y": {"field": "lo", "type": "quantitative", "scale": {"domain": [-0.00175, 0.03675], "nice": false, "zero": false},
          "axis": {"values": [0, 0.005, 0.01, 0.015, 0.02, 0.025, 0.03, 0.035], "labelExpr": "round(datum.value*200) % 2 == 0 ? format(datum.value, '.2f') : ''", "labelPadding": 5, "title": "valeurs", "titleAngle": -90, "titleAlign": "right", "titleBaseline": "middle", "titleX": -47, "titleY": -3}},
        "y2": {"field": "q1"}
      }
    },
    {
      "data": {"name": "box"},
      "mark": {"type": "rule", "stroke": "#333333", "strokeWidth": 1},
      "encoding": {"y": {"field": "q3", "type": "quantitative"}, "y2": {"field": "hi"}}
    },
    {
      "data": {"name": "box"},
      "mark": {"type": "bar", "width": 164, "stroke": "#333333", "strokeWidth": 0.8, "fillOpacity": 0.6},
      "encoding": {
        "y": {"field": "q1", "type": "quantitative"},
        "y2": {"field": "q3"},
        "fill": {"field": "g", "type": "nominal", "scale": {"domain": ["var.obs.p1", "var.obs.p2"], "range": ["#440154", "#FDE725"]}, "legend": null}
      }
    },
    {
      "data": {"name": "box"},
      "mark": {"type": "tick", "color": "#222222", "thickness": 2, "size": 164, "opacity": 1},
      "encoding": {"y": {"field": "med", "type": "quantitative"}}
    },
    {
      "data": {"name": "out"},
      "mark": {"type": "circle", "color": "#333333", "size": 22, "opacity": 1},
      "encoding": {"y": {"field": "v", "type": "quantitative"}}
    },
    {
      "data": {"name": "pts"},
      "mark": {"type": "circle", "color": "#000000", "size": 5, "opacity": 1},
      "encoding": {
        "y": {"field": "v", "type": "quantitative"},
        "xOffset": {"field": "j", "type": "quantitative", "scale": {"domain": [-0.5, 0.5]}}
      }
    },
    {
      "data": {"name": "ref"},
      "mark": {"type": "rule", "stroke": "#b22222", "strokeWidth": 1, "strokeDash": [5, 2, 1, 2], "opacity": 0.85},
      "encoding": {"y": {"field": "v", "type": "quantitative"}, "x": null}
    }
  ]
}
